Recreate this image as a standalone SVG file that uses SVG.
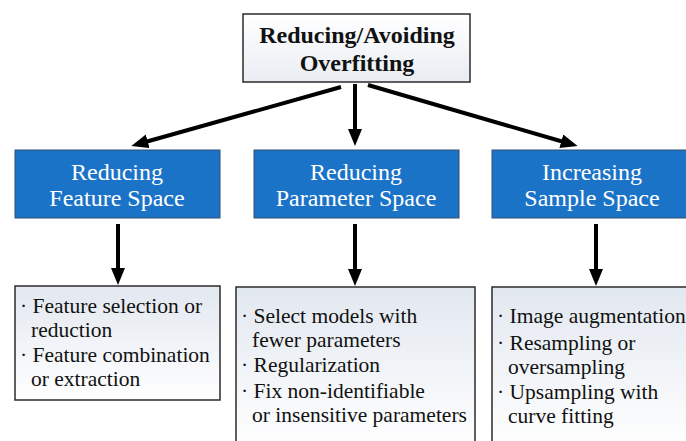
<svg xmlns="http://www.w3.org/2000/svg" width="686" height="441" viewBox="0 0 686 441">
<style>
.top{fill:url(#gTop);stroke:#2b2b2b;stroke-width:1.5}
.blue{fill:#1b73c8;stroke:#33506e;stroke-width:1}
.sub{fill:url(#gSub);stroke:#2b2b2b;stroke-width:1.5}
.tt{font-family:"Liberation Serif","Times New Roman",serif;font-weight:bold;font-size:24px;fill:#111;text-anchor:middle}
.bt{font-family:"Liberation Serif","Times New Roman",serif;font-size:24px;fill:#ffffff;text-anchor:middle}
.st{font-family:"Liberation Serif","Times New Roman",serif;font-size:21.5px;fill:#111}
.conn{stroke:#000;stroke-width:4;fill:none;marker-end:url(#ah)}
</style>
<defs>
<linearGradient id="gTop" x1="0" y1="0" x2="0" y2="1">
<stop offset="0" stop-color="#ffffff"/>
<stop offset="1" stop-color="#e9edf3"/>
</linearGradient>
<linearGradient id="gSub" x1="0" y1="0" x2="0" y2="1">
<stop offset="0" stop-color="#e2e8f0"/>
<stop offset="1" stop-color="#ffffff"/>
</linearGradient>
<marker id="ah" markerUnits="userSpaceOnUse" markerWidth="18" markerHeight="16" refX="8" refY="7" orient="auto">
<path d="M0,0 L17,7 L0,14 Z" fill="#000"/>
</marker>
</defs>
<g id="connectors">
<line class="conn" x1="341" y1="87" x2="140" y2="143.5"/>
<line class="conn" x1="355" y1="84" x2="355" y2="137"/>
<line class="conn" x1="368" y1="85" x2="569" y2="143.5"/>
<line class="conn" x1="118" y1="224" x2="118" y2="276"/>
<line class="conn" x1="355" y1="224" x2="355" y2="277"/>
<line class="conn" x1="596" y1="224" x2="596" y2="277"/>
</g>
<g id="root">
<rect class="top" x="243" y="14" width="227" height="68"/>
<text class="tt" x="357" y="43">Reducing/Avoiding</text>
<text class="tt" x="357" y="71">Overfitting</text>
</g>
<g id="feature">
<rect class="blue" x="15" y="150" width="205" height="68"/>
<text class="bt" x="117" y="180">Reducing</text>
<text class="bt" x="117" y="206">Feature Space</text>
</g>
<g id="parameter">
<rect class="blue" x="254" y="150" width="205" height="68"/>
<text class="bt" x="356" y="180">Reducing</text>
<text class="bt" x="356" y="206">Parameter Space</text>
</g>
<g id="sample">
<rect class="blue" x="492" y="150" width="200" height="68"/>
<text class="bt" x="592" y="180">Increasing</text>
<text class="bt" x="592" y="206">Sample Space</text>
</g>
<g id="feature-list">
<rect class="sub" x="15" y="286" width="205" height="114"/>
<text class="st" x="20" y="313">· Feature selection or</text>
<text class="st" x="31" y="337">reduction</text>
<text class="st" x="20" y="362">· Feature combination</text>
<text class="st" x="31" y="386">or extraction</text>
</g>
<g id="parameter-list">
<rect class="sub" x="236" y="287" width="239" height="160"/>
<text class="st" x="241" y="323">· Select models with</text>
<text class="st" x="252" y="347">fewer parameters</text>
<text class="st" x="241" y="372">· Regularization</text>
<text class="st" x="241" y="398">· Fix non-identifiable</text>
<text class="st" x="252" y="422">or insensitive parameters</text>
</g>
<g id="sample-list">
<rect class="sub" x="492" y="287" width="200" height="160"/>
<text class="st" x="497" y="323">· Image augmentation</text>
<text class="st" x="497" y="350">· Resampling or</text>
<text class="st" x="508" y="374">oversampling</text>
<text class="st" x="497" y="399">· Upsampling with</text>
<text class="st" x="508" y="423">curve fitting</text>
</g>
</svg>
